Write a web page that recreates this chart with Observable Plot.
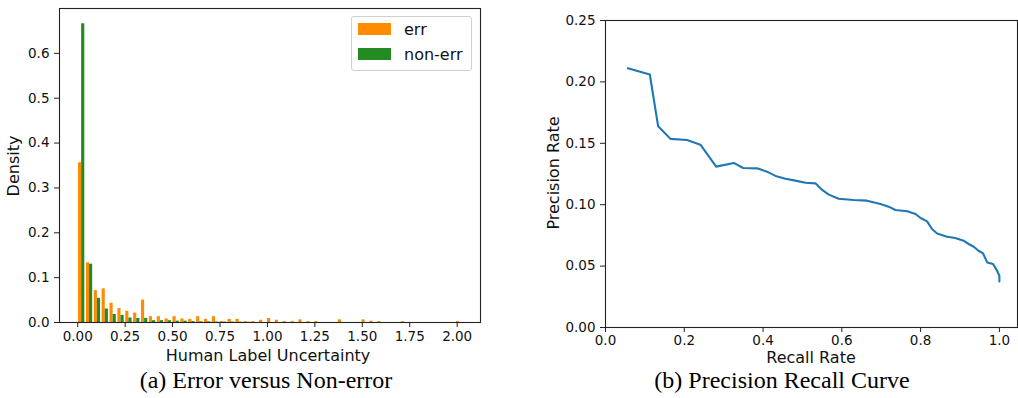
<!DOCTYPE html>
<html><head><meta charset="utf-8">
<script src="https://cdn.jsdelivr.net/npm/d3@7"></script>
<script src="https://cdn.jsdelivr.net/npm/@observablehq/plot@0.6"></script>
<style>
body{margin:0;background:#fff;}
#root{position:relative;width:1018px;height:398px;overflow:hidden;font-family:"DejaVu Sans";color:#111;}
#left{position:absolute;left:0;top:0;}
#right{position:absolute;left:530px;top:0;}
.lbl{position:absolute;font-size:16px;line-height:1;white-space:nowrap;transform:translate(-50%,-50%);}
.rot{transform:translate(-50%,-50%) rotate(-90deg);}
.cap{position:absolute;top:368px;font-family:"Liberation Serif";font-size:24px;line-height:24px;white-space:nowrap;transform:translateX(-50%);color:#000;}
#legend{position:absolute;left:351px;top:16px;width:119px;height:53px;border:1px solid #d0d0d0;border-radius:3px;background:rgba(255,255,255,0.8);font-size:16px;}
.sw{position:absolute;left:6px;width:33px;height:12px;}
.lt{position:absolute;left:52px;line-height:1;}
</style></head><body>
<div id="root">
<div id="left"></div><div id="right"></div>
<div id="legend"></div>
<div class="lbl" id="xlabA" style="left:268px;top:356px"></div>
<div class="lbl rot" id="ylabA" style="left:14px;top:166px"></div>
<div class="lbl" id="xlabB" style="left:811px;top:358px"></div>
<div class="lbl rot" id="ylabB" style="left:554px;top:173px"></div>
<div class="cap" id="capA" style="left:266px"></div>
<div class="cap" id="capB" style="left:782px"></div>
</div>
<script>
// ---- Panel (a): histogram densities per bin (49 bins of width binWidth starting at 0)
const binWidth = 0.0415;
const seriesNames = ["err", "non-err"];
const seriesColors = ["#ff8c00", "#228b22"];
const errDensity = [0.356,0.133,0.071,0.075,0.043,0.031,0.025,0.021,0.050,0.013,
  0.013,0.008,0.013,0.008,0.007,0.013,0.007,0.013,0.002,0.007,
  0.007,0.002,0.002,0.005,0.009,0.005,0.002,0.002,0.006,0.002,
  0.002,0,0,0.006,0,0,0.006,0.003,0.002,0,
  0,0.002,0,0,0,0,0,0,0.002];
const nonErrDensity = [0.666,0.130,0.054,0.030,0.018,0.016,0.010,0.009,0.009,0.004,
  0.004,0.004,0.003,0.003,0.002,0.0015,0.0015,0.001,0.001,0.001,
  0.0008,0.0005,0,0,0,0,0,0,0,0,
  0,0,0,0,0,0,0,0,0,0,
  0,0,0,0,0,0,0,0,0];
const histXTicks = [0, 0.25, 0.5, 0.75, 1.0, 1.25, 1.5, 1.75, 2.0];
const histYTicks = [0, 0.1, 0.2, 0.3, 0.4, 0.5, 0.6];

// ---- Panel (b): precision-recall curve
const recall = [0.0566,0.1125,0.1337,0.165,0.207,0.241,0.281,0.3257,0.3494,0.385,
  0.410,0.434,0.457,0.482,0.5076,0.533,0.550,0.567,0.592,0.630,
  0.664,0.698,0.719,0.736,0.766,0.787,0.800,0.8165,0.829,0.842,
  0.867,0.888,0.909,0.922,0.935,0.947,0.9586,0.969,0.984,0.9941,
  1.0,1.0];
const precision = [0.2111,0.2060,0.1638,0.1536,0.1527,0.1489,0.1310,0.1340,0.1299,0.1296,
  0.1269,0.1231,0.1212,0.1196,0.1179,0.1174,0.1120,0.1082,0.1049,0.1038,
  0.1033,0.1006,0.0984,0.0957,0.0946,0.0924,0.0892,0.0864,0.0802,0.0766,
  0.0739,0.0729,0.0707,0.0680,0.0658,0.0625,0.0603,0.0530,0.0517,0.0462,
  0.0421,0.0375];
const prXTicks = [0, 0.2, 0.4, 0.6, 0.8, 1.0];
const prYTicks = [0, 0.05, 0.10, 0.15, 0.20, 0.25];

const texts = {
  xA: "Human Label Uncertainty", yA: "Density",
  xB: "Recall Rate", yB: "Precision Rate",
  capA: "(a) Error versus Non-error", capB: "(b) Precision Recall Curve"
};

// build histogram table
const histRows = [];
[errDensity, nonErrDensity].forEach((vals, s) => {
  vals.forEach((v, i) => {
    const start = i * binWidth;
    histRows.push({
      series: seriesNames[s],
      x1: start + binWidth * (0.1 + 0.4 * s),
      x2: start + binWidth * (0.5 + 0.4 * s),
      y: v
    });
  });
});

const axisStyle = {fontFamily: "DejaVu Sans", fontSize: "13.5px", color: "#111", background: "transparent", overflow: "visible"};

const plotA = Plot.plot({
  width: 490, height: 365,
  marginLeft: 59, marginRight: 10, marginTop: 8, marginBottom: 43,
  style: axisStyle,
  x: {domain: [-0.096, 2.123], label: null},
  y: {domain: [0, 0.70], label: null},
  color: {domain: seriesNames, range: seriesColors},
  marks: [
    Plot.rect(histRows, {x1: "x1", x2: "x2", y1: 0, y2: "y", fill: "series", inset: 0}),
    Plot.axisX({ticks: histXTicks, tickFormat: d3.format(".2f"), tickSize: 5, tickPadding: 4, label: null, stroke: "#222"}),
    Plot.axisY({ticks: histYTicks, tickFormat: d3.format(".1f"), tickSize: 5, tickPadding: 5, label: null, stroke: "#222"}),
    Plot.frame({stroke: "#222", strokeWidth: 1.1})
  ]
});
document.getElementById("left").appendChild(plotA);

const prRows = recall.map((r, i) => ({recall: r, precision: precision[i]}));
const plotB = Plot.plot({
  width: 488, height: 370,
  marginLeft: 75, marginRight: 1, marginTop: 20, marginBottom: 43,
  style: axisStyle,
  x: {domain: [0, 1.046], label: null},
  y: {domain: [0, 0.25], label: null},
  marks: [
    Plot.line(prRows, {x: "recall", y: "precision", stroke: "#1f77b4", strokeWidth: 2.1}),
    Plot.axisX({ticks: prXTicks, tickFormat: d3.format(".1f"), tickSize: 5, tickPadding: 3, label: null, stroke: "#222"}),
    Plot.axisY({ticks: prYTicks, tickFormat: d3.format(".2f"), tickSize: 5, tickPadding: 5, label: null, stroke: "#222"}),
    Plot.frame({stroke: "#222", strokeWidth: 1.1})
  ]
});
document.getElementById("right").appendChild(plotB);

document.getElementById("xlabA").textContent = texts.xA;
document.getElementById("ylabA").textContent = texts.yA;
document.getElementById("xlabB").textContent = texts.xB;
document.getElementById("ylabB").textContent = texts.yB;
document.getElementById("capA").textContent = texts.capA;
document.getElementById("capB").textContent = texts.capB;

const legend = document.getElementById("legend");
seriesNames.forEach((name, i) => {
  const sw = document.createElement("div");
  sw.className = "sw"; sw.style.top = (6 + i * 25) + "px"; sw.style.background = seriesColors[i];
  const t = document.createElement("div");
  t.className = "lt"; t.style.top = (5 + i * 25) + "px"; t.textContent = name;
  legend.appendChild(sw); legend.appendChild(t);
});
</script>
</body></html>
